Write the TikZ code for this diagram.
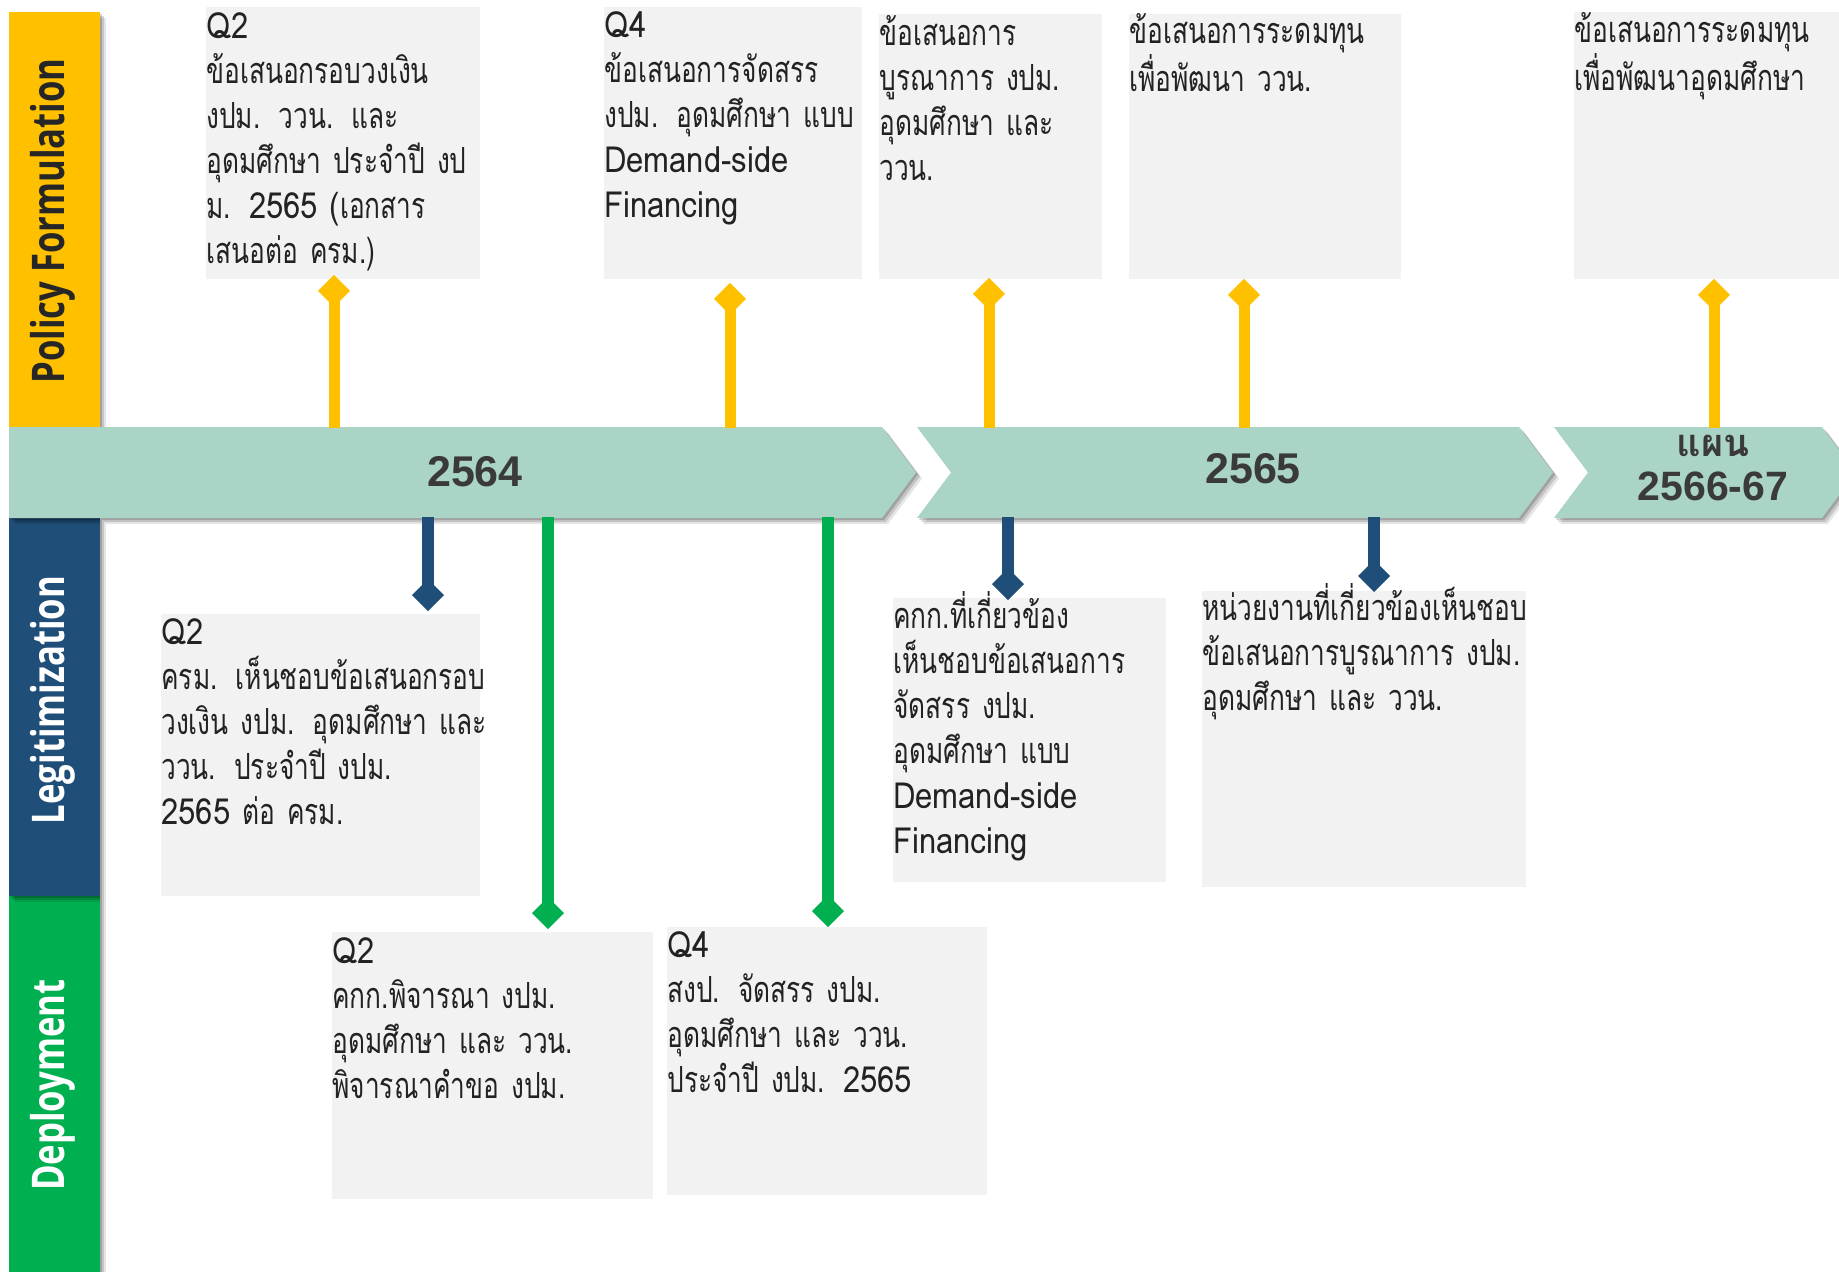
\documentclass[tikz,border=0pt]{standalone}
\usepackage{fontspec}
\usetikzlibrary{arrows.meta,shadows}
\newfontfamily\thaifont[Script=Thai,FakeStretch=0.73,WordSpace=0.8]{Loma}
\newfontfamily\latfont[FakeStretch=0.86]{Loma}
\newfontfamily\thaibold[Script=Thai]{Loma}
\newfontfamily\sidefont[FakeStretch=0.77]{Open Sans}
\newfontfamily\yearfont{Liberation Sans}
\newcommand{\lat}[1]{{\latfont #1}}
\definecolor{pyellow}{HTML}{FFC000}
\definecolor{pblue}{HTML}{1F4E79}
\definecolor{pgreen}{HTML}{00B050}
\definecolor{bandc}{HTML}{AAD4C6}
\definecolor{boxc}{HTML}{F2F2F2}
\definecolor{yeartxt}{HTML}{3A3A3A}
\definecolor{txtc}{HTML}{222222}
\definecolor{sidetxt}{HTML}{262626}
\newcommand{\infobox}[7]{%
  \node[tbox, minimum width=#4, minimum height=#5] (#1) at (#2,#3) {};
  \node[btext] (#1txt) at ([yshift=-#6]#1.north west) {#7};}
\begin{document}
\lineskiplimit=-100pt
\begin{tikzpicture}[x=0.5pt,y=-0.5pt,
  softshadow/.style={
    drop shadow={shadow xshift=1pt,shadow yshift=-1pt,opacity=0.18,fill=black},
    drop shadow={shadow xshift=2pt,shadow yshift=-2pt,opacity=0.14,fill=black},
    drop shadow={shadow xshift=3pt,shadow yshift=-3pt,opacity=0.10,fill=black}},
  barbox/.style={draw=none, inner sep=0pt, anchor=north west, softshadow},
  band/.style={fill=bandc, softshadow},
  tbox/.style={fill=boxc, draw=none, inner sep=0pt, anchor=north west},
  btext/.style={anchor=base west, inner sep=0pt, text width=250pt, align=left, text=txtc,
    font=\thaifont\fontsize{18pt}{22.5pt}\selectfont},
  yearlbl/.style={text=yeartxt, inner sep=0pt, font=\yearfont\bfseries\fontsize{21.5pt}{24pt}\selectfont},
  sidelbl/.style={rotate=90, inner sep=0pt, font=\sidefont\bfseries\fontsize{22.5pt}{27pt}\selectfont},
  yconn/.style={draw=pyellow, line width=5.5pt, -{Diamond[length=16pt,width=16pt]}},
  bconn/.style={draw=pblue, line width=6pt, -{Diamond[length=16pt,width=16pt]}},
  gconn/.style={draw=pgreen, line width=6pt, -{Diamond[length=16pt,width=16pt]}},
]
\useasboundingbox (0,0) rectangle (1839,1271);

% side bars
\node[barbox, fill=pyellow, minimum width=45.5pt, minimum height=208pt] (barP) at (9,12) {};
\node[barbox, fill=pgreen, minimum width=45.5pt, minimum height=190pt] (barD) at (9,896) {};
\node[barbox, fill=pblue, minimum width=45.5pt, minimum height=189pt] (barL) at (9,518) {};

% timeline bands
\path[band] (9,427) -- (882,427) -- (916,472.5) -- (882,518) -- (9,518) -- cycle;
\path[band] (917,427) -- (1519,427) -- (1553,472.5) -- (1519,518) -- (917,518) -- (951,472.5) -- cycle;
\path[band] (1554,427) -- (1822,427) -- (1856,472.5) -- (1822,518) -- (1554,518) -- (1588,472.5) -- cycle;
\coordinate (btop) at (0,428);
\coordinate (bbot) at (0,517);

% side labels
\node[sidelbl, text=sidetxt] (lblP) at (53,221) {Policy Formulation};
\node[sidelbl, text=white] (lblL) at (53,700) {Legitimization};
\node[sidelbl, text=white] (lblD) at (53,1085) {Deployment};

% year labels
\node[yearlbl] (y2564) at (475,472) {2564};
\node[yearlbl] (y2565) at (1253,469) {2565};
\node[text=yeartxt, inner sep=0pt, anchor=base, text width=100pt, align=center,
      font=\yearfont\bfseries\fontsize{20.5pt}{22pt}\selectfont] (y2566) at (1713,456)
      {{\thaibold\bfseries\fontsize{19pt}{22pt}\selectfont แผน}\\2566-67};

% policy boxes
\infobox{bA}{206}{7}{137pt}{136pt}{15.5pt}{\lat{Q2}\\ข้อเสนอกรอบวงเงิน\\งปม. ววน. และ\\อุดมศึกษา ประจำปี งป\\ม. \lat{2565 (}เอกสาร\\เสนอต่อ ครม.)}
\infobox{bB}{604}{7}{129pt}{136pt}{15pt}{\lat{Q4}\\ข้อเสนอการจัดสรร\\งปม. อุดมศึกษา แบบ\\\lat{Demand-side}\\\lat{Financing}}
\infobox{bC}{879}{14}{111.5pt}{132.5pt}{15.5pt}{ข้อเสนอการ\\บูรณาการ งปม.\\อุดมศึกษา และ\\ววน.}
\infobox{bD}{1129}{14}{136pt}{132.5pt}{14.5pt}{ข้อเสนอการระดมทุน\\เพื่อพัฒนา ววน.}
\infobox{bE}{1574}{12}{138pt}{133.5pt}{15pt}{ข้อเสนอการระดมทุน\\เพื่อพัฒนาอุดมศึกษา}

% legitimization boxes
\infobox{bF}{161}{614}{159.5pt}{141pt}{15pt}{\lat{Q2}\\ครม. เห็นชอบข้อเสนอกรอบ\\วงเงิน งปม. อุดมศึกษา และ\\ววน. ประจำปี งปม.\\\lat{2565} ต่อ ครม.}
\infobox{bG}{893}{598}{136.5pt}{142pt}{15pt}{คกก.ที่เกี่ยวข้อง\\เห็นชอบข้อเสนอการ\\จัดสรร งปม.\\อุดมศึกษา แบบ\\\lat{Demand-side}\\\lat{Financing}}
\infobox{bH}{1202}{591}{162pt}{148pt}{14.5pt}{หน่วยงานที่เกี่ยวข้องเห็นชอบ\\ข้อเสนอการบูรณาการ งปม.\\อุดมศึกษา และ ววน.}

% deployment boxes
\infobox{bI}{332}{932}{160.5pt}{133.5pt}{15.5pt}{\lat{Q2}\\คกก.พิจารณา งปม.\\อุดมศึกษา และ ววน.\\พิจารณาคำขอ งปม.}
\infobox{bJ}{667}{927}{160pt}{134pt}{15pt}{\lat{Q4}\\สงป. จัดสรร งปม.\\อุดมศึกษา และ ววน.\\ประจำปี งปม. \lat{2565}}

% connector x positions
\coordinate (xA) at (334,0);
\coordinate (xB) at (730,0);
\coordinate (xC) at (989,0);
\coordinate (xD) at (1244,0);
\coordinate (xE) at (1714,0);
\coordinate (xF) at (428,0);
\coordinate (xG) at (1008,0);
\coordinate (xH) at (1374,0);
\coordinate (xI) at (548,0);
\coordinate (xJ) at (828,0);

\draw[yconn] (btop -| xA) -- ([yshift=2.5pt]bA.south -| xA);
\draw[yconn] (btop -| xB) -- ([yshift=-1.5pt]bB.south -| xB);
\draw[yconn] (btop -| xC) -- ([yshift=1pt]bC.south -| xC);
\draw[yconn] (btop -| xD) -- ([yshift=0.5pt]bD.south -| xD);
\draw[yconn] (btop -| xE) -- ([yshift=0.5pt]bE.south -| xE);

\draw[bconn] (bbot -| xF) -- ([yshift=1.5pt]bF.north -| xF);
\draw[bconn] (bbot -| xG) -- ([yshift=-1pt]bG.north -| xG);
\draw[bconn] (bbot -| xH) -- ([yshift=-0.5pt]bH.north -| xH);

\draw[gconn] (bbot -| xI) -- ([yshift=1.5pt]bI.north -| xI);
\draw[gconn] (bbot -| xJ) -- (bJ.north -| xJ);
\end{tikzpicture}
\end{document}
